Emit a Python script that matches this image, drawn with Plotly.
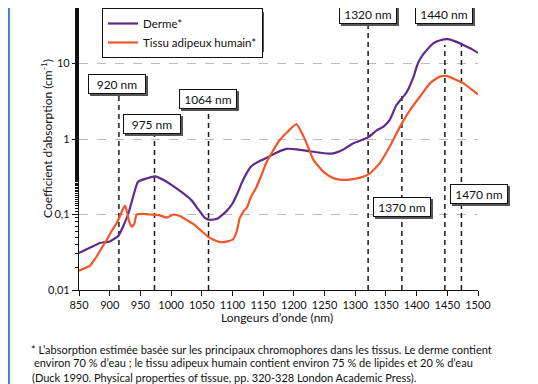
import plotly.graph_objects as go

# ---- data ----
derme_nm = [850, 870, 884, 900, 914, 922, 930, 938, 946, 960, 974, 990, 1006, 1020, 1033, 1045, 1055, 1063,
            1075, 1090, 1100, 1108, 1115, 1122, 1130, 1142, 1155, 1170, 1188, 1205, 1225, 1242, 1262, 1280,
            1297, 1321, 1335, 1346, 1356, 1367, 1384, 1395, 1402, 1410, 1427, 1440, 1451, 1464, 1476, 1490, 1500]
derme_val = [0.031, 0.037, 0.042, 0.044, 0.052, 0.07, 0.10, 0.17, 0.27, 0.30, 0.32, 0.28, 0.23, 0.19, 0.155,
             0.115, 0.09, 0.085, 0.088, 0.11, 0.14, 0.19, 0.26, 0.34, 0.43, 0.50, 0.56, 0.65, 0.74, 0.73, 0.69,
             0.66, 0.64, 0.72, 0.88, 1.05, 1.3, 1.46, 1.78, 2.8, 4.2, 6.7, 10.0, 13.0, 18.5, 20.5, 21.0, 19.5,
             17.6, 15.5, 13.8]

adip_nm = [850, 860, 868, 875, 879, 887, 895, 903, 911, 918, 922, 925, 928, 931, 936, 940, 944, 955, 966, 980,
           993, 1004, 1015, 1025, 1037, 1047, 1060, 1070, 1080, 1092, 1101, 1107, 1112, 1118, 1124, 1130, 1139,
           1147, 1155, 1166, 1177, 1190, 1204, 1213, 1221, 1232, 1248, 1262, 1275, 1291, 1310, 1324, 1340, 1356,
           1373, 1389, 1405, 1422, 1438, 1450, 1462, 1476, 1490, 1500]
adip_val = [0.018, 0.0195, 0.021, 0.025, 0.028, 0.036, 0.046, 0.06, 0.076, 0.1, 0.12, 0.13, 0.11, 0.085, 0.069,
            0.075, 0.1, 0.102, 0.1, 0.098, 0.091, 0.1, 0.095, 0.085, 0.074, 0.063, 0.051, 0.046, 0.043, 0.044,
            0.047, 0.06, 0.09, 0.11, 0.125, 0.17, 0.23, 0.33, 0.48, 0.70, 0.97, 1.25, 1.58, 1.2, 0.87, 0.53, 0.37,
            0.31, 0.29, 0.29, 0.31, 0.35, 0.48, 0.79, 1.46, 2.4, 3.6, 5.5, 6.7, 6.8, 6.2, 5.5, 4.5, 3.9]

# marker lines: position (nm), top value, label
mark_x = [915, 973, 1061, 1321, 1376, 1446, 1473]
mark_top = [3.95, 1.16, 2.65, 44.0, 3.83, 17.6, 17.6]
mark_label = ["920 nm", "975 nm", "1064 nm", "1320 nm", "1370 nm", "1440 nm", "1470 nm"]
# label box anchor: (nm, log10 y, xanchor, yanchor, xshift)
label_pos = [(912.7, 0.728, "center", "middle", 0),
             (969.5, 0.203, "center", "middle", 0),
             (1060.5, 0.536, "center", "middle", 0),
             (1320.5, 1.523, "center", "bottom", 0),
             (1376.9, -0.9, "center", "middle", 0),
             (1444.5, 1.523, "center", "bottom", 0),
             (1473, -0.728, "left", "middle", -11)]

ytick_vals = [0.01, 0.1, 1, 10]
ytick_text = ["0,01", "0,1", "1", "10"]
xtick_vals = list(range(850, 1501, 50))

PURPLE = "#5e2a8c"
ORANGE = "#f0562a"
FONT = "Lato"

# the page has an 8px body margin: the figure starts at page (8, 8)
OFF = 8
W, H = 538 - OFF, 384 - OFF
L, T = 79 - OFF, 0
R = W - (478 - OFF)
B = H - (290 - OFF)
pw, ph = W - L - R, H - T - B
DEC = 75.5  # px per decade
ytop = -2 + ph / DEC


def px(xp):
    return (xp - OFF - L) / pw


def py(yp):
    return (H - B - (yp - OFF)) / ph


fig = go.Figure()

for xm, top in zip(mark_x, mark_top):
    fig.add_trace(go.Scatter(x=[xm, xm], y=[0.01, top], mode="lines",
                             line=dict(color="#1a1a1a", width=1.5, dash="5px,4px"),
                             showlegend=False, hoverinfo="skip", cliponaxis=False))

fig.add_trace(go.Scatter(x=derme_nm, y=derme_val, mode="lines", name="Derme*",
                         line=dict(color=PURPLE, width=2.2, shape="spline", smoothing=0.5)))
fig.add_trace(go.Scatter(x=adip_nm, y=adip_val, mode="lines", name="Tissu adipeux humain*",
                         line=dict(color=ORANGE, width=2.2, shape="spline", smoothing=0.5)))

annotations = []
for (lx, ly, xa, ya, xs), txt in zip(label_pos, mark_label):
    # drop shadow box (fixed size, no text)
    annotations.append(dict(x=lx, y=ly, xref="x", yref="y", text=" ", showarrow=False,
                            xanchor=xa, yanchor=ya, width=50, height=12,
                            font=dict(family=FONT, size=12),
                            bgcolor="#555555", bordercolor="#555555", borderwidth=1, borderpad=3,
                            xshift=xs + 2, yshift=-2))
    annotations.append(dict(x=lx, y=ly, xref="x", yref="y", text=txt, showarrow=False,
                            xanchor=xa, yanchor=ya, xshift=xs, width=50, height=12,
                            font=dict(family=FONT, size=12, color="#111111"),
                            bgcolor="white", bordercolor="#111111", borderwidth=1, borderpad=3))

foot = ["* L’absorption estimée basée sur les principaux chromophores dans les tissus. Le derme contient",
        "environ 70 % d’eau ; le tissu adipeux humain contient environ 75 % de lipides et 20 % d’eau",
        "(Duck 1990. Physical properties of tissue, pp. 320-328 London Academic Press)."]
foot_x = [29, 32, 30]
foot_y = [349, 363, 377]
for t, fx, fy in zip(foot, foot_x, foot_y):
    annotations.append(dict(x=px(fx), y=py(fy), xref="paper", yref="paper", text=t, showarrow=False,
                            xanchor="left", yanchor="middle",
                            font=dict(family=FONT, size=11, color="#111111")))

annotations.append(dict(x=px(277), y=py(327), xref="paper", yref="paper", text="Longeurs d’onde (nm)",
                        showarrow=False, font=dict(family=FONT, size=12, color="#111111")))
annotations.append(dict(x=px(37), y=py(139), xref="paper", yref="paper",
                        text="Coefficient d’absorption (cm<sup>-1</sup>)", textangle=-90,
                        showarrow=False, font=dict(family=FONT, size=12, color="#111111")))

shapes = [
    # legend shadow
    dict(type="rect", xref="paper", yref="paper", x0=px(104), x1=px(264), y0=py(52), y1=py(12),
         fillcolor="#555555", line=dict(width=0), layer="above"),
    # blue frame
    dict(type="line", xref="paper", yref="paper", x0=px(9), x1=px(9), y0=-0.5, y1=1.2,
         line=dict(color="#4a80c4", width=2)),
    dict(type="line", xref="paper", yref="paper", x0=px(533), x1=px(533), y0=-0.5, y1=1.2,
         line=dict(color="#4a80c4", width=2)),
]

fig.update_layout(
    width=W, height=H, margin=dict(l=L, r=R, t=T, b=B, autoexpand=False),
    paper_bgcolor="white", plot_bgcolor="white",
    font=dict(family=FONT, size=11, color="#111111"),
    showlegend=True,
    legend=dict(x=px(102), y=1.0, xanchor="left", yanchor="top", bgcolor="white",
                bordercolor="#111111", borderwidth=1, font=dict(family=FONT, size=11.5),
                tracegroupgap=0, itemwidth=30),
    annotations=annotations,
    shapes=shapes,
    xaxis=dict(range=[850, 1500], tickvals=xtick_vals, showgrid=False, showline=True,
               linecolor="#111111", linewidth=1.3, ticks="outside", ticklen=5, tickcolor="#111111",
               tickfont=dict(family=FONT, size=11), zeroline=False),
    yaxis=dict(type="log", range=[-2, ytop], tickvals=ytick_vals, ticktext=ytick_text,
               showgrid=True, gridcolor="#bbbbbb", griddash="dash", gridwidth=1,
               showline=True, linecolor="#111111", linewidth=1.3, ticks="outside", ticklen=6,
               tickcolor="#111111", tickfont=dict(family=FONT, size=11), zeroline=False,
               minor=dict(ticks="outside", ticklen=3, tickcolor="#111111", showgrid=False)),
)

fig.write_html("out.html")
